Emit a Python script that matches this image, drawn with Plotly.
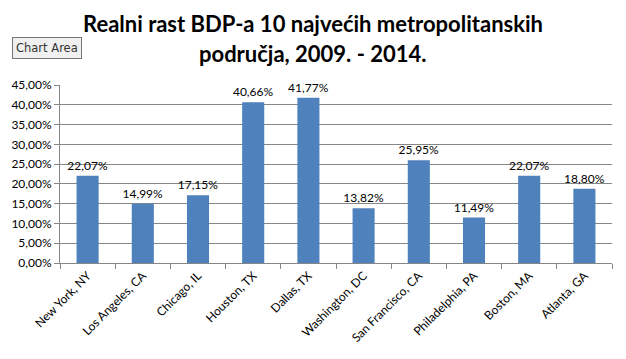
import plotly.graph_objects as go

cities = ["New York, NY", "Los Angeles, CA", "Chicago, IL", "Houston, TX", "Dallas, TX",
          "Washington, DC", "San Francisco, CA", "Philadelphia, PA", "Boston, MA", "Atlanta, GA"]
growth = [22.07, 14.99, 17.15, 40.66, 41.77, 13.82, 25.95, 11.49, 22.07, 18.80]
y_ticks = [0, 5, 10, 15, 20, 25, 30, 35, 40, 45]
y_tick_labels = ["0,00%", "5,00%", "10,00%", "15,00%", "20,00%", "25,00%",
                 "30,00%", "35,00%", "40,00%", "45,00%"]
title_lines = ["Realni rast BDP-a 10 najvećih metropolitanskih", "područja, 2009. - 2014."]

FONT = "Lato, Open Sans, DejaVu Sans, sans-serif"

fig = go.Figure(go.Bar(
    x=cities, y=growth,
    marker=dict(color="#4F81BD", line=dict(width=0)),
    width=0.4,
    text=growth, texttemplate="%{y:.2f}%", textposition="outside",
    constraintext="none",
    textfont=dict(size=12, color="#000000", family=FONT),
    cliponaxis=False,
))

fig.update_layout(
    width=626, height=359,
    margin=dict(l=60, r=14, t=85, b=96),
    paper_bgcolor="white", plot_bgcolor="white",
    separators=",.",
    showlegend=False,
    font=dict(family=FONT, size=12, color="#000000"),
)

# title as two annotation lines (paper coords: plot height 178px, width 552px)
plot_h = 178.0
plot_w = 552.0
for line, ypix in zip(title_lines, [24, 54]):
    fig.add_annotation(
        text="<b>" + line + "</b>", xref="paper", yref="paper",
        x=(313 - 60) / plot_w, y=1 + (85 - ypix) / plot_h,
        xanchor="center", yanchor="middle", showarrow=False,
        font=dict(size=22, color="#000000", family=FONT),
    )

fig.update_xaxes(
    type="category", tickangle=-45, tickson="boundaries",
    ticks="outside", ticklen=5, tickcolor="#868686",
    showline=True, linecolor="#868686", linewidth=1,
    showgrid=False, tickfont=dict(size=12, family=FONT),
    automargin=False,
)
fig.update_yaxes(
    range=[0, 45], tickvals=y_ticks, ticktext=y_tick_labels,
    ticks="outside", ticklen=5, tickcolor="#868686",
    showline=True, linecolor="#868686", linewidth=1,
    showgrid=True, gridcolor="#868686", gridwidth=1,
    zeroline=False, tickfont=dict(size=12, family=FONT),
    automargin=False,
)

fig.add_annotation(
    text="Chart Area", xref="paper", yref="paper",
    x=(12 - 60) / plot_w, y=1 + (85 - 48) / plot_h,
    xanchor="left", yanchor="middle", showarrow=False,
    font=dict(size=11.5, color="#333333", family="DejaVu Sans, sans-serif"),
    bgcolor="#f0f0f0", bordercolor="#767676", borderwidth=1, borderpad=3,
)

fig.write_html(
    "out.html",
    config={"displayModeBar": False},
    post_script="document.body.style.margin='0';document.body.style.overflow='hidden';",
)
